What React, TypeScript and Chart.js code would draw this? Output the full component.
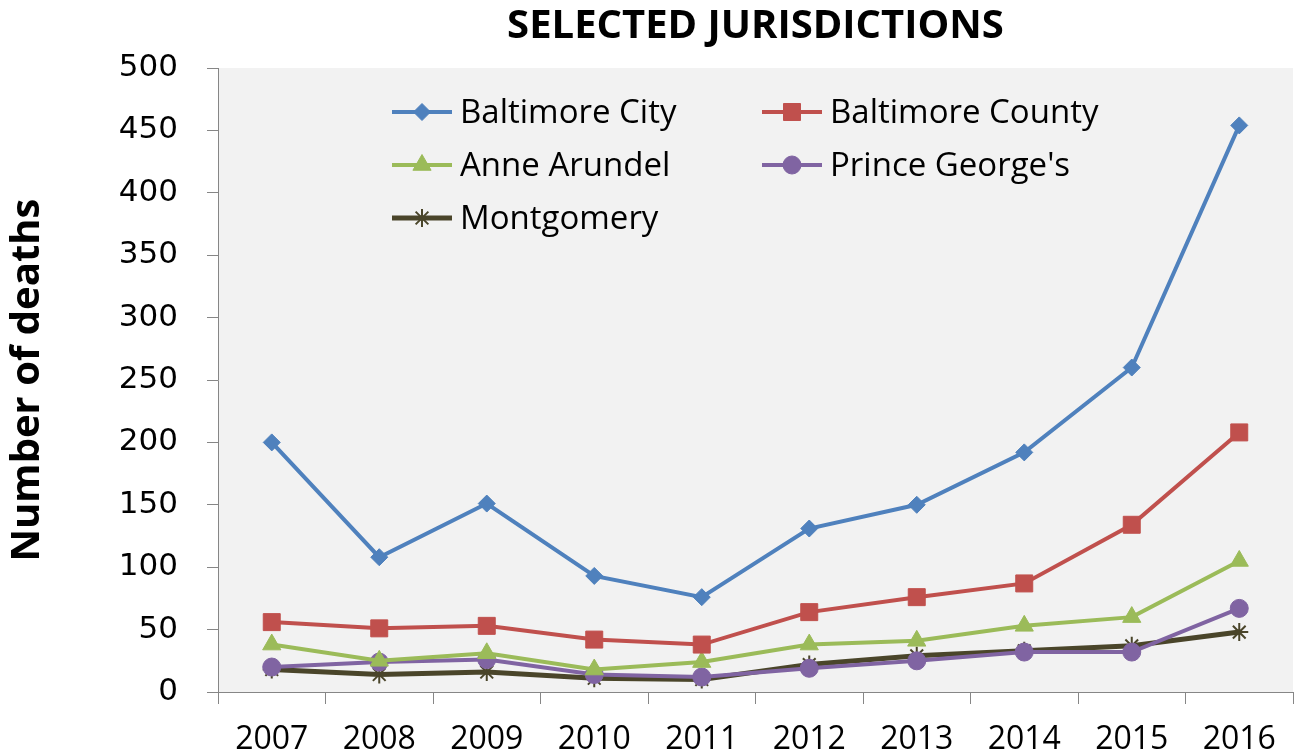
import React, { useEffect, useRef } from 'react';
import { Chart, registerables } from 'chart.js';
import { drawPoint } from 'chart.js/helpers';

Chart.register(...registerables);

const years = ['2007', '2008', '2009', '2010', '2011', '2012', '2013', '2014', '2015', '2016'];
const baltimoreCity = [200, 108, 151, 93, 76, 131, 150, 192, 260, 454];
const baltimoreCounty = [56, 51, 53, 42, 38, 64, 76, 87, 134, 208];
const anneArundel = [38, 25, 31, 18, 24, 38, 41, 53, 60, 105];
const princeGeorges = [20, 24, 26, 14, 12, 19, 25, 32, 32, 67];
const montgomery = [18, 14, 16, 11, 10, 22, 29, 33, 37, 48];

const seriesNames = ['Baltimore City', 'Baltimore County', 'Anne Arundel', "Prince George's", 'Montgomery'];
const seriesColors = ['#4F81BD', '#C0504D', '#9BBB59', '#8064A2', '#4A452A'];
const seriesMarkers = ['rectRot', 'rect', 'triangle', 'circle', 'star'];
const markerRadius = [8.5, 12, 10.5, 9, 9];

const titleText = 'SELECTED JURISDICTIONS';
const yTitleText = 'Number of deaths';

const FONT = '"Open Sans"';

const bgPlugin = {
  id: 'plotBg',
  beforeDraw(chart: any) {
    const { ctx, chartArea } = chart;
    ctx.save();
    ctx.fillStyle = '#F2F2F2';
    ctx.fillRect(chartArea.left, chartArea.top, chartArea.right - chartArea.left, chartArea.bottom - chartArea.top);
    ctx.restore();
  },
};

const legendPlugin = {
  id: 'gridLegend',
  afterDatasetsDraw(chart: any) {
    const { ctx, chartArea } = chart;
    const colOffsets = [174, 544];
    const rowStart = 44;
    const rowGap = 53;
    const lineLen = 60;
    ctx.save();
    chart.data.datasets.forEach((ds: any, i: number) => {
      const col = i % 2;
      const row = Math.floor(i / 2);
      const x0 = chartArea.left + colOffsets[col];
      const y = chartArea.top + rowStart + row * rowGap;
      ctx.strokeStyle = ds.borderColor;
      ctx.lineWidth = ds.borderWidth;
      ctx.beginPath();
      ctx.moveTo(x0, y);
      ctx.lineTo(x0 + lineLen, y);
      ctx.stroke();
      ctx.fillStyle = ds.pointBackgroundColor;
      ctx.strokeStyle = ds.pointBorderColor;
      ctx.lineWidth = ds.pointBorderWidth;
      drawPoint(ctx, { pointStyle: ds.pointStyle, rotation: 0, radius: ds.pointRadius, borderWidth: ds.pointBorderWidth }, x0 + lineLen / 2, y);
      ctx.fillStyle = '#000000';
      ctx.font = `33px ${FONT}`;
      ctx.textAlign = 'left';
      ctx.textBaseline = 'middle';
      ctx.fillText(ds.label, x0 + lineLen + 8, y + 2);
    });
    ctx.restore();
  },
};

export default function App() {
  const canvasRef = useRef<HTMLCanvasElement | null>(null);

  useEffect(() => {
    if (!canvasRef.current) return;
    const values = [baltimoreCity, baltimoreCounty, anneArundel, princeGeorges, montgomery];
    const datasets = values.map((data, i) => ({
      label: seriesNames[i],
      data,
      borderColor: seriesColors[i],
      backgroundColor: seriesColors[i],
      borderWidth: i === 4 ? 5 : 4,
      pointStyle: seriesMarkers[i],
      pointRadius: markerRadius[i],
      pointHoverRadius: markerRadius[i],
      pointBackgroundColor: seriesColors[i],
      pointBorderColor: seriesColors[i],
      pointBorderWidth: i === 4 ? 2 : 1,
      tension: 0,
      fill: false,
    }));

    const chart = new Chart(canvasRef.current, {
      type: 'line',
      data: { labels: years, datasets },
      plugins: [bgPlugin, legendPlugin],
      options: {
        animation: false,
        responsive: false,
        maintainAspectRatio: false,
        layout: { autoPadding: false, padding: { left: 0, right: 7, top: 0, bottom: 0 } },
        plugins: {
          legend: { display: false },
          tooltip: { enabled: false },
          title: {
            display: true,
            text: titleText,
            fullSize: false,
            color: '#000000',
            font: { family: FONT, size: 40, weight: 'bold', lineHeight: 1.2 },
            padding: { top: 3, bottom: 17 },
          },
        },
        scales: {
          x: {
            type: 'category',
            offset: true,
            grid: {
              offset: true,
              drawOnChartArea: false,
              drawTicks: true,
              tickLength: 12,
              color: '#868686',
              lineWidth: 1,
            },
            border: { display: true, color: '#868686', width: 1 },
            ticks: {
              color: '#000000',
              font: { family: FONT, size: 32 },
              padding: 17,
              maxRotation: 0,
              autoSkip: false,
            },
            afterFit(scale: any) {
              scale.height = 61;
              scale.paddingLeft = 0;
              scale.paddingRight = 0;
            },
          },
          y: {
            min: 0,
            max: 500,
            grid: {
              drawOnChartArea: false,
              drawTicks: true,
              tickLength: 11,
              color: '#868686',
              lineWidth: 1,
            },
            border: { display: true, color: '#868686', width: 1 },
            ticks: {
              stepSize: 50,
              color: '#000000',
              font: { family: 'DejaVu Sans', size: 31 },
              padding: 29,
            },
            title: {
              display: true,
              text: yTitleText,
              color: '#000000',
              font: { family: FONT, size: 40, weight: 'bold', lineHeight: 1.2 },
              padding: { top: 4, bottom: 0 },
            },
            afterFit(scale: any) {
              scale.width = 218;
              scale.paddingTop = 0;
              scale.paddingBottom = 0;
            },
          },
        },
      },
    } as any);
    return () => chart.destroy();
  }, []);

  return (
    <div style={{ position: 'fixed', left: 0, top: 0, width: 1300, height: 753, background: '#FFFFFF' }}>
      <canvas ref={canvasRef} width={1300} height={753} style={{ width: 1300, height: 753, display: 'block' }} />
    </div>
  );
}
